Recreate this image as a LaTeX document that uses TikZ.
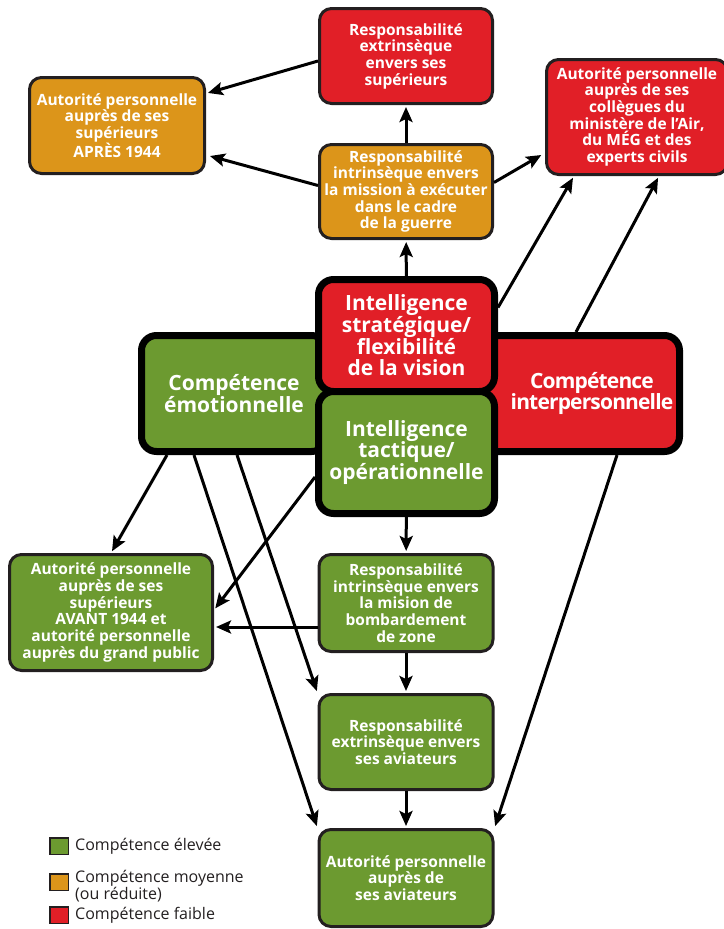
\documentclass[tikz,border=0pt]{standalone}
\usepackage{fontspec}
\setmainfont{Open Sans}
\usetikzlibrary{positioning,calc,arrows.meta}

\definecolor{high}{HTML}{6C9A30}
\definecolor{mid}{HTML}{DC951A}
\definecolor{low}{HTML}{E11F27}
\definecolor{outline}{HTML}{231F20}

\newcommand{\boxfont}{\fontsize{15.5}{16.7}\selectfont\bfseries}
\newcommand{\corefont}{\fontsize{21}{21.7}\selectfont\bfseries}
\newcommand{\keyfont}{\fontsize{16}{15.5}\selectfont}

\tikzset{
  box/.style={draw=outline, line width=3pt, rounded corners=12pt, text=white,
    font=\boxfont, align=center, inner sep=1pt},
  core/.style={draw=black, line width=7pt, rounded corners=15pt, text=white,
    font=\corefont, align=center, inner sep=1pt},
  coretext/.style={text=white, font=\corefont\addfontfeature{LetterSpace=-4},
    align=center, inner sep=1pt},
  dims/.style 2 args={minimum width=#1pt, minimum height=#2pt},
  arr/.style={-{Stealth[length=15pt,width=13pt,inset=3pt]}, line width=3pt,
    draw=black, shorten >=2pt},
  key/.style={draw=outline, line width=1.5pt, minimum width=18.5pt,
    minimum height=16.5pt, inner sep=0pt},
  keytext/.style={font=\keyfont, text=outline, align=left, inner sep=0pt}
}

\begin{document}
\begin{tikzpicture}[x=1pt,y=-1pt]
  \useasboundingbox (0,0) rectangle (723,929);

  % upper part
  \node[box, fill=low, dims={173}{95}] (supext) at (406,56)
    {Responsabilité\\extrinsèque\\envers ses\\supérieurs};
  \node[box, fill=mid, dims={175}{96}] (apres) at (117,125.5)
    {Autorité personnelle\\auprès de ses\\supérieurs\\APRÈS 1944};
  \node[box, fill=mid, dims={173}{94}] (mission) at (406,191.5)
    {Responsabilité\\intrinsèque envers\\la mission à exécuter\\dans le cadre\\de la guerre};
  \node[box, fill=low, dims={181}{115}, text depth=4pt] (collegues) at (637,117)
    {Autorité personnelle\\auprès de ses\\collègues du\\ministère de l’Air,\\du MÉG et des\\experts civils};

  % core
  \node[core, fill=high, dims={185}{116}] (emo) at (234,393.5)
    {Compétence\\émotionnelle};
  \node[core, fill=low, dims={216}{116}, label={[coretext, xshift=20.5pt]center:{Compétence\\interpersonnelle}}] (inter) at (571.5,393.5) {};
  \node[core, fill=low, dims={176}{112}] (strat) at (406.5,335.5)
    {Intelligence\\stratégique/\\flexibilité\\de la vision};
  \node[core, fill=high, dims={176}{122}] (tact) at (406.5,452.5)
    {Intelligence\\tactique/\\opérationnelle};

  % lower part
  \node[box, fill=high, dims={203}{116}] (avant) at (111,612.5)
    {Autorité personnelle\\auprès de ses\\supérieurs\\AVANT 1944 et\\autorité personnelle\\auprès du grand public};
  \node[box, fill=high, dims={174}{97}] (bombard) at (406,603)
    {Responsabilité\\intrinsèque envers\\la mision de\\bombardement\\de zone};
  \node[box, fill=high, dims={174}{95}] (aviext) at (406,742)
    {Responsabilité\\extrinsèque envers\\ses aviateurs};
  \node[box, fill=high, dims={174}{97}] (aviaut) at (406,878)
    {Autorité personnelle\\auprès de\\ses aviateurs};

  % arrows
  \draw[arr] ($(supext.west)+(0,5)$) -- ($(apres.east)+(0,-32)$);
  \draw[arr] ($(mission.west)+(0,-6)$) -- ($(apres.east)+(2,30)$);
  \draw[arr] ($(mission.east)+(0,-9)$) -- ($(collegues.south west)+(-2,-22)$);
  \path[arr] (mission) edge (supext)
             (strat) edge (mission)
             (tact) edge (bombard)
             (bombard) edge (aviext)
             (aviext) edge (aviaut);
  \draw[arr] ($(strat.east)+(0,-28)$) -- ($(collegues.south west)+(29,0)$);
  \draw[arr] ($(inter.north west)+(116,0)$) -- ($(collegues.south)+(22,0)$);
  \draw[arr] ($(emo.south west)+(29,0)$) -- (avant.north);
  \draw[arr] ($(tact.west)+(0,24.5)$) -- ($(avant.east)+(0,-2.5)$);
  \draw[arr] ($(bombard.west)+(0,24)$) -- ($(avant.east)+(0,14.5)$);
  \draw[arr] ($(emo.south west)+(99,0)$) -- (aviext.north west);
  \draw[arr] ($(emo.south west)+(56,0)$) -- (aviaut.north west);
  \draw[arr] ($(inter.south west)+(157,0)$) -- (aviaut.north east);

  % legend
  \node[key, fill=high] (keyhigh) at (59,846) {};
  \node[key, fill=mid] (keymid) at (59,882) {};
  \node[key, fill=low] (keylow) at (59,915) {};
  \node[keytext, right=6pt of keyhigh] (keyhightext) {Compétence élevée};
  \node[keytext, anchor=north west] (keymidtext) at ($(keymid.north east)+(6,-3)$)
    {Compétence moyenne\\(ou réduite)};
  \node[keytext, right=6pt of keylow] (keylowtext) {Compétence faible};
\end{tikzpicture}
\end{document}
